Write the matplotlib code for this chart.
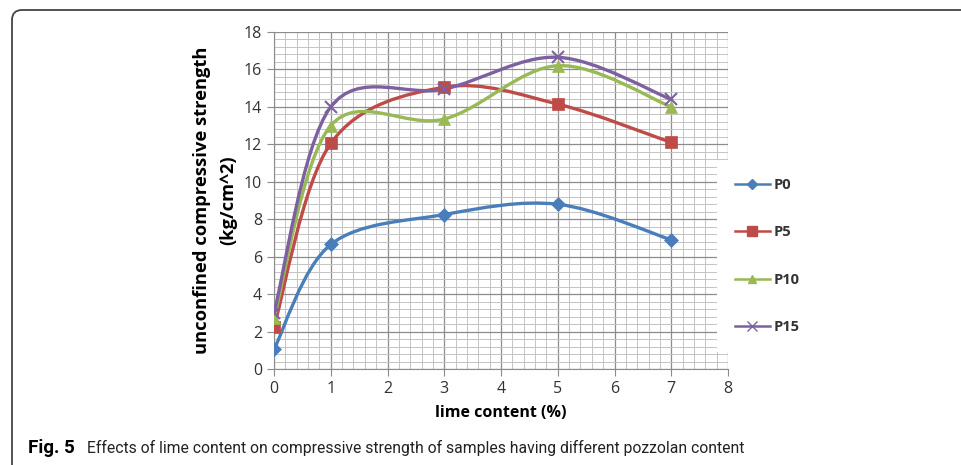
# Lime content vs. unconfined compressive strength, re-drawn from the paper figure

import matplotlib.pyplot as plt
import numpy as np
from matplotlib.path import Path
from matplotlib.patches import PathPatch, FancyBboxPatch
from matplotlib.lines import Line2D
from matplotlib.ticker import MultipleLocator
plt.close('all')

# Data
lime = [0, 1, 3, 5, 7]
p0 = [1.05, 6.65, 8.25, 8.8, 6.9]
p5 = [2.25, 12.05, 15.05, 14.15, 12.1]
p10 = [2.75, 13.0, 13.35, 16.2, 14.0]
p15 = [3.0, 14.0, 14.95, 16.65, 14.4]

labels = ['P0', 'P5', 'P10', 'P15']
colors = ['#4A7EBB', '#BE4B48', '#98B954', '#7D60A0']
markers = ['D', 's', '^', 'x']
msizes = [7, 9, 8, 9]

font = ['Open Sans', 'DejaVu Sans']
plt.rcParams['font.family'] = font


def smooth_path(x, y):
    # Excel style smoothed line: cubic bezier segments through the points
    pts = np.column_stack([x, y]).astype(float)
    n = len(pts)
    verts = [pts[0]]
    codes = [Path.MOVETO]
    for i in range(n - 1):
        prev = pts[max(i - 1, 0)]
        nxt = pts[min(i + 2, n - 1)]
        c1 = pts[i] + (pts[i + 1] - prev) / 6
        c2 = pts[i + 1] - (nxt - pts[i]) / 6
        verts += [c1, c2, pts[i + 1]]
        codes += [Path.CURVE4] * 3
    return Path(verts, codes)


fig = plt.figure(figsize=(9.62, 4.65), dpi=100)
ax = fig.add_axes([274 / 962, 1 - 369 / 465, 454 / 962, 337 / 465])

series = [p0, p5, p10, p15]
handles = []
for vals, lab, c, m, ms in zip(series, labels, colors, markers, msizes):
    ax.add_patch(PathPatch(smooth_path(lime, vals), facecolor='none',
                           edgecolor=c, lw=2.4, zorder=3))
    ax.plot(lime, vals, linestyle='none', marker=m, color=c, markersize=ms,
            markeredgewidth=1.5 if m == 'x' else 0.5, zorder=4)
    handles.append(Line2D([], [], color=c, lw=1.8, marker=m,
                          markersize=ms * 0.75, markeredgewidth=1.0, label=lab))

ax.set_xlim(0, 8)
ax.set_ylim(0, 18)
ax.xaxis.set_major_locator(MultipleLocator(1))
ax.xaxis.set_minor_locator(MultipleLocator(0.2))
ax.yaxis.set_major_locator(MultipleLocator(2))
ax.yaxis.set_minor_locator(MultipleLocator(0.4))
ax.grid(True, which='major', color='#8c8c8c', lw=0.9)
ax.grid(True, which='minor', color='#c4c4c4', lw=0.7)
ax.set_axisbelow(True)
ax.tick_params(which='major', length=5, color='#8c8c8c', labelsize=11.5,
               labelcolor='#333333')
ax.tick_params(which='minor', length=0)
for s in ['top', 'right']:
    ax.spines[s].set_visible(False)
for s in ['left', 'bottom']:
    ax.spines[s].set_color('#8c8c8c')

ax.set_xlabel('lime content (%)', fontsize=11.5, fontweight='bold', labelpad=6)
ax.set_ylabel('unconfined compressive strength\n(kg/cm^2)', fontsize=13.2,
              fontweight='bold', labelpad=5, linespacing=1.6)

leg = ax.legend(handles=handles, loc='center left', bbox_to_anchor=(0.976, 0.335),
                frameon=True, facecolor='white', edgecolor='none', framealpha=1,
                fontsize=10.5, labelspacing=2.3, handlelength=2.4,
                handletextpad=0.3, borderpad=1.2, borderaxespad=0, fancybox=False)
for t in leg.get_texts():
    t.set_fontweight('bold')
    t.set_color('#333333')

# caption
fig.text(28 / 962, 1 - 448 / 465, 'Fig. 5', fontsize=13.5, fontweight='bold',
         va='center', family=['Roboto', 'DejaVu Sans'])
fig.text(87 / 962, 1 - 448 / 465,
         'Effects of lime content on compressive strength of samples having different pozzolan content',
         fontsize=11.3, va='center', color='#222222', family=['Roboto', 'DejaVu Sans'])

# figure frame with rounded top-left corner
frame = FancyBboxPatch((12, -60), 1100, 465 - 10 + 60,
                       boxstyle='round,pad=0,rounding_size=10',
                       transform=None, facecolor='none', edgecolor='#444444',
                       lw=1.3, clip_on=False)
fig.patches.append(frame)

fig.savefig('out.png', dpi=100)
